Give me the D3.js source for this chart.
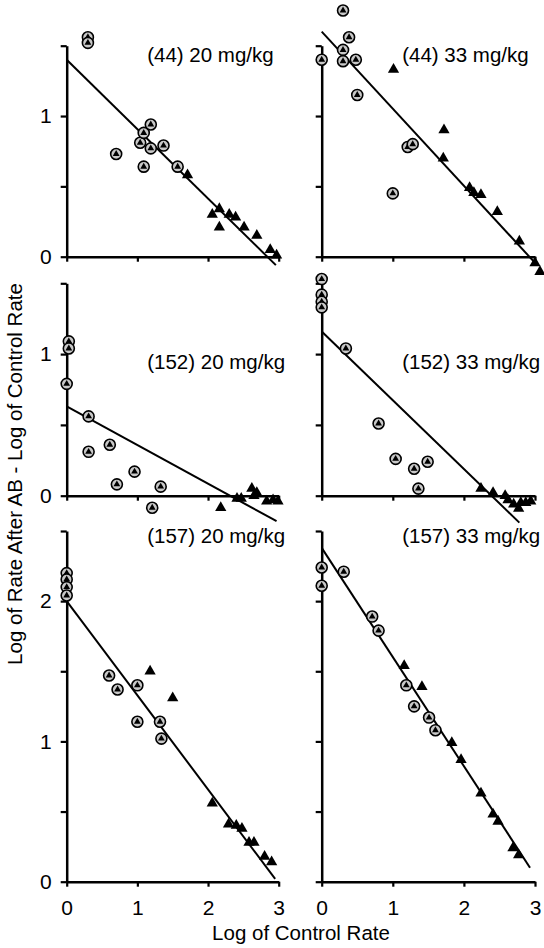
<!DOCTYPE html>
<html>
<head>
<meta charset="utf-8">
<script src="https://cdn.jsdelivr.net/npm/d3@7"></script>
<style>
  body { margin: 0; background: #fff; }
  svg { display: block; }
  text { font-family: "Liberation Sans", Arial, sans-serif; }
</style>
</head>
<body>
<svg id="drawing_region"></svg>
<script>
// panel titles
const titles = ["(44) 20 mg/kg", "(44) 33 mg/kg", "(152) 20 mg/kg", "(152) 33 mg/kg", "(157) 20 mg/kg", "(157) 33 mg/kg"];

// circled triangles (early sessions) [log control rate, log ratio]
const circ44_20 = [[0.3, 1.56], [0.3, 1.52], [0.7, 0.73], [1.04, 0.81], [1.09, 0.88], [1.19, 0.94], [1.19, 0.77], [1.09, 0.64], [1.37, 0.79], [1.57, 0.64]];
const circ44_33 = [[0.3, 1.75], [0.385, 1.56], [0.3, 1.47], [0, 1.4], [0.3, 1.39], [0.48, 1.4], [0.5, 1.15], [1.21, 0.78], [1.28, 0.8], [1.0, 0.45]];
const circ152_20 = [[0.03, 1.09], [0.03, 1.04], [0, 0.79], [0.31, 0.56], [0.31, 0.31], [0.61, 0.36], [0.71, 0.08], [0.96, 0.17], [1.33, 0.064], [1.21, -0.085]];
const circ152_33 = [[0, 1.53], [0, 1.42], [0, 1.37], [0, 1.33], [0.34, 1.04], [0.8, 0.51], [1.04, 0.26], [1.3, 0.19], [1.49, 0.24], [1.36, 0.05]];
const circ157_20 = [[0, 2.2], [0, 2.155], [0, 2.1], [0, 2.04], [0.6, 1.47], [0.72, 1.37], [1.0, 1.4], [1.0, 1.14], [1.32, 1.14], [1.34, 1.02]];
const circ157_33 = [[0, 2.24], [0, 2.11], [0.31, 2.21], [0.71, 1.89], [0.8, 1.79], [1.19, 1.4], [1.3, 1.25], [1.51, 1.17], [1.6, 1.08]];

// filled triangles
const tri44_20 = [[1.71, 0.58], [2.06, 0.3], [2.16, 0.34], [2.16, 0.21], [2.3, 0.3], [2.39, 0.28], [2.51, 0.21], [2.69, 0.15], [2.88, 0.05], [2.97, 0.01]];
const tri44_33 = [[1.01, 1.33], [1.72, 0.9], [1.71, 0.7], [2.08, 0.49], [2.14, 0.455], [2.24, 0.44], [2.47, 0.32], [2.78, 0.11], [3.0, -0.045], [3.07, -0.107]];
const tri152_20 = [[2.18, -0.085], [2.41, -0.02], [2.47, -0.02], [2.62, 0.05], [2.69, 0.02], [2.65, 0.0], [2.83, -0.04], [2.92, -0.03], [2.99, -0.04]];
const tri152_33 = [[2.24, 0.05], [2.41, 0.02], [2.58, 0.0], [2.62, -0.03], [2.7, -0.06], [2.77, -0.09], [2.8, -0.05], [2.87, -0.05], [2.94, -0.04]];
const tri157_20 = [[1.18, 1.5], [1.5, 1.31], [2.06, 0.56], [2.29, 0.41], [2.4, 0.4], [2.48, 0.38], [2.58, 0.28], [2.65, 0.28], [2.8, 0.18], [2.9, 0.14]];
const tri157_33 = [[1.16, 1.54], [1.41, 1.39], [1.83, 0.99], [1.96, 0.87], [2.24, 0.63], [2.41, 0.48], [2.48, 0.43], [2.69, 0.24], [2.77, 0.19]];

// fitted regression lines: [x0, y0, x1, y1]
const fits = [[0, 1.40, 2.96, -0.06], [0, 1.60, 3.03, -0.06], [0, 0.63, 2.97, -0.18], [0, 1.16, 2.78, -0.19], [0, 2.0, 2.95, 0.02], [0, 2.38, 2.93, 0.10]];

// axis ticks
const xTicks = [0, 1, 2, 3];
const yTicksShort = [0, 0.5, 1, 1.5];
const yTicksTall = [0, 0.5, 1, 1.5, 2, 2.5];
const yMax = [1.5, 1.5, 2.5];

const circled = [circ44_20, circ44_33, circ152_20, circ152_33, circ157_20, circ157_33];
const filled = [tri44_20, tri44_33, tri152_20, tri152_33, tri157_20, tri157_33];

const config = {
  width: 544,
  height: 948,
  cols: [[66.7, 278.7], [321.7, 535]],
  rows: [[45.7, 256.7], [283.3, 495.7], [531, 881.7]],
  titleBase: [61.5, 368.5, 542.5],
};

const svg = d3.select("#drawing_region")
  .attr("width", config.width)
  .attr("height", config.height);

const tri = d3.symbol().type(d3.symbolTriangle);

titles.forEach((title, i) => {
  const row = Math.floor(i / 2);
  const col = i % 2;
  const [x0, x1] = config.cols[col];
  const [y0, y1] = config.rows[row];

  const xscale = d3.scaleLinear().domain([0, 3]).range([x0, x1]);
  const yscale = d3.scaleLinear().domain([0, yMax[row]]).range([y1, y0]);

  const g = svg.append("g");

  // axes
  const yaxis = d3.axisLeft(yscale)
    .tickValues(row === 2 ? yTicksTall : yTicksShort)
    .tickSize(6)
    .tickSizeOuter(0)
    .tickPadding(9)
    .tickFormat((d) => (col === 0 && Number.isInteger(d) ? d : ""));
  const xaxis = d3.axisBottom(xscale)
    .tickValues(xTicks)
    .tickSize(5)
    .tickSizeOuter(0)
    .tickPadding(13)
    .tickFormat((d) => (row === 2 ? d : ""));

  const yg = g.append("g").attr("transform", `translate(${x0},0)`).call(yaxis);
  const xg = g.append("g").attr("transform", `translate(0,${y1})`).call(xaxis);
  [yg, xg].forEach((a) => {
    a.select(".domain").attr("stroke-width", 2.5);
    a.selectAll(".tick line").attr("stroke-width", 2.2);
    a.selectAll(".tick text")
      .attr("font-size", "21px")
      .attr("fill", "#000")
      .style("font-family", '"Liberation Sans", Arial, sans-serif');
  });

  // fitted line
  const f = fits[i];
  g.append("line")
    .attr("x1", xscale(f[0]))
    .attr("y1", yscale(f[1]))
    .attr("x2", xscale(f[2]))
    .attr("y2", yscale(f[3]))
    .attr("stroke", "#000")
    .attr("stroke-width", 2);

  // filled triangles
  g.selectAll(".ftri")
    .data(filled[i])
    .join("path")
    .attr("class", "ftri")
    .attr("d", tri.size(55)())
    .attr("transform", (d) => `translate(${xscale(d[0])},${yscale(d[1])})`)
    .attr("fill", "#000");

  // circled triangles
  const cg = g.selectAll(".circ")
    .data(circled[i])
    .join("g")
    .attr("class", "circ")
    .attr("transform", (d) => `translate(${xscale(d[0])},${yscale(d[1])})`);
  cg.append("circle")
    .attr("r", 5.5)
    .attr("fill", "#c8c8c8")
    .attr("stroke", "#000")
    .attr("stroke-width", 1.6);
  cg.append("path")
    .attr("d", d3.symbol().type(d3.symbolTriangle).size(20)())
    .attr("fill", "#000");

  // title
  g.append("text")
    .attr("x", x0 + 80.5)
    .attr("y", config.titleBase[row])
    .attr("font-size", "20.5px")
    .attr("fill", "#000")
    .text(title);
});

// axis titles
svg.append("text")
  .attr("x", 301)
  .attr("y", 940)
  .attr("text-anchor", "middle")
  .attr("font-size", "20.5px")
  .text("Log of Control Rate");

svg.append("text")
  .attr("transform", "rotate(-90)")
  .attr("x", -474)
  .attr("y", 22)
  .attr("text-anchor", "middle")
  .attr("font-size", "20.5px")
  .text("Log of Rate After AB - Log of Control Rate");
</script>
</body>
</html>
